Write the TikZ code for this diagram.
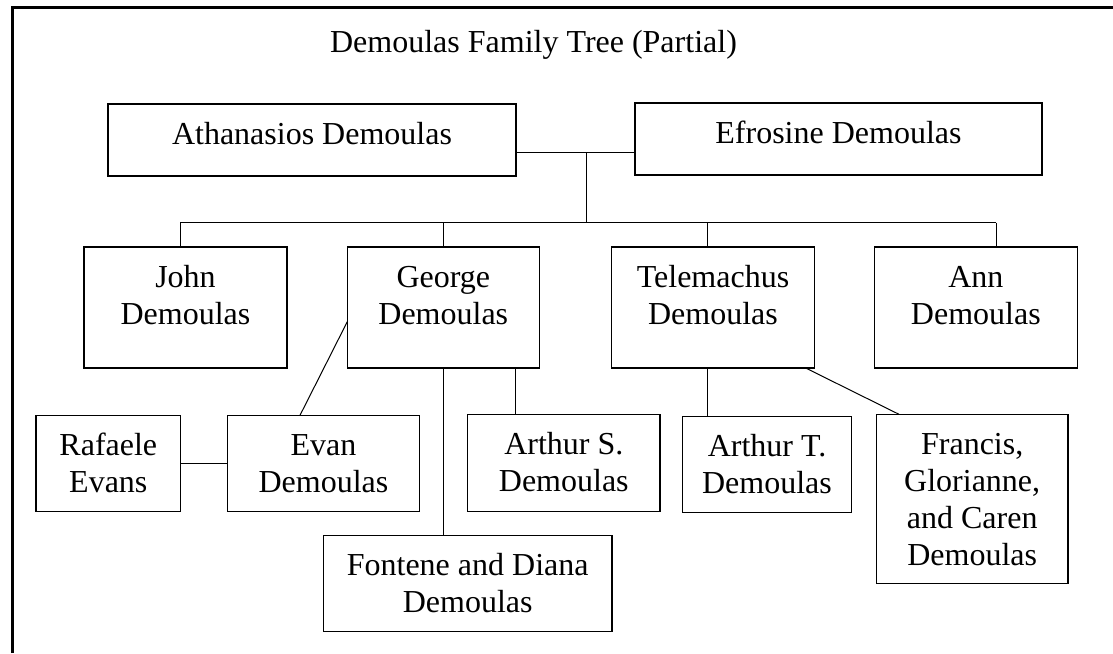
\documentclass[tikz,border=0pt]{standalone}
\usepackage{fontspec}
\setmainfont{Liberation Serif}
\begin{document}
\begin{tikzpicture}[x=1pt,y=-1pt,
  box/.style={draw, line width=1.5pt, inner sep=0pt, rectangle},
  lbl/.style={anchor=north, inner sep=0pt, align=center, font=\fontsize{32}{37}\selectfont},
  conn/.style={line width=1pt}]
\useasboundingbox (0,0) rectangle (1113,653);
% frame (top and left only)
\draw[line width=2.5pt] (12.5,653) -- (12.5,7.5) -- (1113,7.5);
% title
\node[lbl, anchor=base] (title) at (533.5,52) {Demoulas Family Tree (Partial)};
% generation 1
\node[box, minimum width=408pt, minimum height=72pt] (ath) at (312,140) {};
\node[lbl] (athT) at (312,118.1) {\strut Athanasios Demoulas};
\node[box, minimum width=407pt, minimum height=72pt] (efr) at (838.5,139) {};
\node[lbl] (efrT) at (838.5,117.1) {\strut Efrosine Demoulas};
% generation 2
\node[box, minimum width=203pt, minimum height=121pt] (john) at (185.5,307.5) {};
\node[lbl] (johnT) at (185.5,261.1) {\strut John\\Demoulas};
\node[box, minimum width=192pt, minimum height=121pt] (george) at (443.3,307.5) {};
\node[lbl] (georgeT) at (443.3,261.1) {\strut George\\Demoulas};
\node[box, minimum width=202.6pt, minimum height=121pt] (tele) at (713,307.5) {};
\node[lbl] (teleT) at (713,261.1) {\strut Telemachus\\Demoulas};
\node[box, minimum width=203pt, minimum height=121pt] (ann) at (975.8,307.5) {};
\node[lbl] (annT) at (975.8,261.1) {\strut Ann\\Demoulas};
% generation 3
\node[box, minimum width=144.7pt, minimum height=96.4pt] (raf) at (108.3,463.5) {};
\node[lbl] (rafT) at (108.3,429.4) {\strut Rafaele\\Evans};
\node[box, minimum width=191.6pt, minimum height=96.4pt] (evan) at (323.5,463.5) {};
\node[lbl] (evanT) at (323.5,429.4) {\strut Evan\\Demoulas};
\node[box, minimum width=192.3pt, minimum height=96.6pt] (arts) at (563.8,463) {};
\node[lbl] (artsT) at (563.8,428.8) {\strut Arthur S.\\Demoulas};
\node[box, minimum width=288.7pt, minimum height=96.4pt] (font) at (467.7,583.5) {};
\node[lbl] (fontT) at (467.7,549.4) {\strut Fontene and Diana\\Demoulas};
\node[box, minimum width=169.4pt, minimum height=96pt] (artt) at (767,464.7) {};
\node[lbl] (arttT) at (767,430.8) {\strut Arthur T.\\Demoulas};
\node[box, minimum width=191.7pt, minimum height=169pt] (fran) at (972.2,498.8) {};
\node[lbl] (franT) at (972.2,428.4) {\strut Francis,\\Glorianne,\\and Caren\\Demoulas};
% connectors
\coordinate (mj) at (586.7,152);
\coordinate (sj) at (586.7,222.7);
\draw[conn] (ath.east |- mj) -- (efr.west |- mj);
\draw[conn] (mj) -- (sj);
\coordinate (dj) at (180,222.7);
\coordinate (dg) at (443.7,222.7);
\coordinate (dt) at (707.3,222.7);
\coordinate (da) at (996,222.7);
\draw[conn] (dj) -- (da);
\draw[conn] (dj) -- (dj |- john.north);
\draw[conn] (dg) -- (dg |- george.north);
\draw[conn] (dt) -- (dt |- tele.north);
\draw[conn] (da) -- (da |- ann.north);
\coordinate (ge) at (347.3,321.7);
\coordinate (et) at (300,415.3);
\draw[conn] (ge) -- (et);
\draw[conn] (raf.east) -- (evan.west);
\coordinate (gs) at (515.7,367.7);
\draw[conn] (gs) -- (gs |- arts.north);
\coordinate (gf) at (443.7,367.7);
\draw[conn] (gf) -- (gf |- font.north);
\coordinate (ta) at (707.7,367.7);
\draw[conn] (ta) -- (ta |- artt.north);
\coordinate (tf) at (805,367.7);
\coordinate (ft) at (899,414.3);
\draw[conn] (tf) -- (ft);
\end{tikzpicture}
\end{document}
